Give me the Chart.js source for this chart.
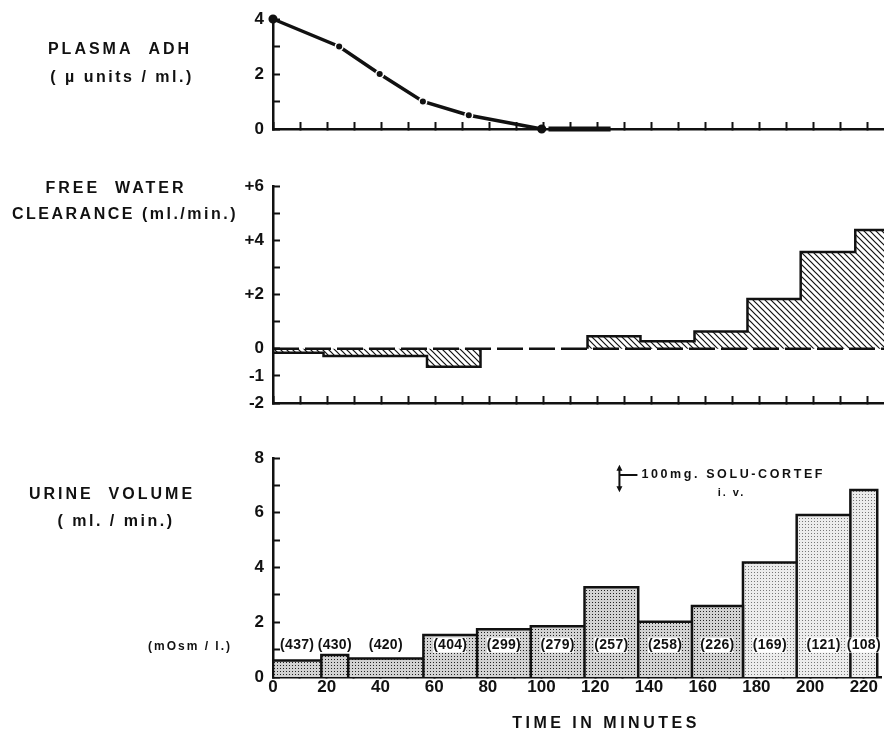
<!DOCTYPE html>
<html>
<head>
<meta charset="utf-8">
<script src="https://cdn.jsdelivr.net/npm/chart.js@4.4.1/dist/chart.umd.min.js"></script>
<style>
  body { margin: 0; background: #fff; }
  #wrap { position: relative; width: 884px; height: 732px; overflow: hidden; }
  canvas { position: absolute; left: 0; }
</style>
</head>
<body>
<div id="wrap">
  <canvas id="adh" width="890" height="164" style="top:-8px;width:890px;height:164px"></canvas>
  <canvas id="cwater" width="885" height="271" style="top:159px;width:885px;height:271px"></canvas>
  <canvas id="urine" width="885" height="302" style="top:430px;width:885px;height:302px"></canvas>
</div>
<script>
// ---- data (time in minutes) ----
const timeMax = 226.5;

// plasma ADH, microunits / ml
const adhTimes = [0, 24.5, 39.5, 55.5, 72.5, 99.5];
const adhValues = [4, 3, 2, 1, 0.5, 0];
// heavy bar on the baseline after ADH disappears
const adhZeroTimes = [102, 125];
const adhZeroValues = [0, 0];

// free water clearance, ml/min, one value per collection period
const cwEdges = [0, 18.7, 57, 76.8, 116.4, 136, 156, 175.6, 195.3, 215.5, 226.5];
const cwValues = [-0.15, -0.27, -0.66, 0, 0.46, 0.28, 0.64, 1.83, 3.57, 4.38];

// urine volume, ml/min, one bar per collection period
const uvEdges = [0, 18, 28, 56, 76, 96, 116, 136, 156, 175, 195, 215, 225];
const uvValues = [0.6, 0.8, 0.68, 1.53, 1.74, 1.85, 3.28, 2.02, 2.59, 4.18, 5.92, 6.83];
const uvOsm = ['(437)', '(430)', '(420)', '(404)', '(299)', '(279)', '(257)', '(258)', '(226)', '(169)', '(121)', '(108)'];

// 100 mg Solu-Cortef i.v.
const cortefTime = 129;

// ---- style ----
const ink = '#111';
const fam = "'Liberation Sans', 'DejaVu Sans', sans-serif";
const tickFont = { family: fam, size: 17, weight: 'bold' };
const lightFrom = 9; // bars from here on have the lighter stipple

function hatch() {
  const c = document.createElement('canvas');
  c.width = 6; c.height = 6;
  const g = c.getContext('2d');
  g.strokeStyle = ink;
  g.lineWidth = 1.2;
  g.beginPath();
  g.moveTo(-1, -1); g.lineTo(7, 7);
  g.moveTo(-1, 5); g.lineTo(1, 7);
  g.moveTo(5, -1); g.lineTo(7, 1);
  g.stroke();
  return g.createPattern(c, 'repeat');
}

function dots(size, bg, dot) {
  const c = document.createElement('canvas');
  c.width = size; c.height = size;
  const g = c.getContext('2d');
  g.fillStyle = bg;
  g.fillRect(0, 0, size, size);
  g.fillStyle = dot;
  g.fillRect(1, 1, 1, 1);
  return g.createPattern(c, 'repeat');
}

function xAxis(height, labels) {
  return {
    type: 'linear', min: 0, max: timeMax,
    ticks: {
      stepSize: 10, includeBounds: false, autoSkip: false, maxRotation: 0,
      display: labels, color: ink, font: tickFont, padding: 7,
      callback: v => v % 20 === 0 ? String(v) : ''
    },
    grid: { drawOnChartArea: false, tickLength: -7, tickWidth: 2, tickColor: ink },
    border: { color: ink, width: 2.5 },
    afterFit: s => { s.height = height; }
  };
}

function yAxis(min, max, fmt) {
  return {
    type: 'linear', min: min, max: max,
    ticks: { stepSize: 1, autoSkip: false, color: ink, font: tickFont, padding: 16, callback: fmt },
    grid: { drawOnChartArea: false, tickLength: -7, tickWidth: 2, tickColor: ink },
    border: { color: ink, width: 2.5 },
    afterFit: s => { s.width = 273; }
  };
}

function drawText(ctx, t) {
  ctx.save();
  ctx.fillStyle = ink;
  ctx.font = 'bold ' + (t.size || 16) + 'px ' + fam;
  ctx.letterSpacing = (t.spacing || 0) + 'px';
  ctx.textAlign = t.align || 'center';
  ctx.textBaseline = 'middle';
  ctx.fillText(t.text, t.x, t.y);
  ctx.restore();
}

const sideText = {
  id: 'sideText',
  afterDraw(chart, args, opts) {
    opts.items.forEach(t => drawText(chart.ctx, t));
  }
};

const common = {
  responsive: false,
  animation: false,
  events: [],
  plugins: { legend: { display: false }, tooltip: { enabled: false } }
};

// ---- plasma ADH ----
new Chart(document.getElementById('adh'), {
  type: 'line',
  data: {
    datasets: [
      {
        data: adhTimes.map((t, i) => ({ x: t, y: adhValues[i] })),
        borderColor: ink, borderWidth: 3.5, tension: 0, clip: false,
        pointRadius: 3.8, pointHoverRadius: 0,
        pointBackgroundColor: ink,
        pointBorderColor: c => (c.dataIndex === 0 || c.dataIndex === adhTimes.length - 1) ? ink : '#fff',
        pointBorderWidth: 1.5
      },
      {
        data: adhZeroTimes.map((t, i) => ({ x: t, y: adhZeroValues[i] })),
        borderColor: ink, borderWidth: 5, pointRadius: 0, clip: false
      }
    ]
  },
  options: {
    ...common,
    layout: { padding: { top: 27, right: 0, left: 0, bottom: 0 } },
    scales: {
      x: xAxis(27, false),
      y: yAxis(0, 4, v => v % 2 === 0 ? String(v) : '')
    },
    plugins: {
      ...common.plugins,
      sideText: { items: [
        { text: 'PLASMA  ADH', x: 120, y: 58, size: 16, spacing: 3 },
        { text: '( \u00b5 units / ml.)', x: 122, y: 86, size: 16, spacing: 2.5 }
      ] }
    }
  },
  plugins: [sideText]
});

// ---- free water clearance ----
const cwPoints = [];
cwValues.forEach((v, i) => {
  cwPoints.push({ x: cwEdges[i], y: v }, { x: cwEdges[i + 1], y: v });
});

new Chart(document.getElementById('cwater'), {
  type: 'line',
  data: {
    datasets: [
      {
        data: [{ x: 0, y: 0 }, { x: timeMax, y: 0 }],
        borderColor: ink, borderWidth: 2.5, borderDash: [26, 6], pointRadius: 0, order: 0
      },
      {
        data: cwPoints,
        borderColor: ink, borderWidth: 2.5, tension: 0, pointRadius: 0,
        borderJoinStyle: 'miter',
        fill: 'origin', backgroundColor: hatch(), order: 1,
        segment: {
          borderColor: c => (c.p0.parsed.y === 0 && c.p1.parsed.y === 0) ? 'rgba(0,0,0,0)' : ink
        }
      }
    ]
  },
  options: {
    ...common,
    layout: { padding: { top: 27, right: 0, left: 0, bottom: 0 } },
    scales: {
      x: xAxis(27, false),
      y: yAxis(-2, 6, v => v < 0 ? String(v) : v === 0 ? '0' : (v % 2 === 0 ? '+' + v : ''))
    },
    plugins: {
      ...common.plugins,
      sideText: { items: [
        { text: 'FREE  WATER', x: 116, y: 30, size: 16, spacing: 3 },
        { text: 'CLEARANCE (ml./min.)', x: 125, y: 56, size: 16, spacing: 2.5 }
      ] }
    }
  },
  plugins: [sideText]
});

// ---- urine volume ----
function barOutline(from, to) {
  const pts = [];
  for (let i = from; i < to; i++) {
    pts.push({ x: uvEdges[i], y: 0 }, { x: uvEdges[i], y: uvValues[i] },
             { x: uvEdges[i + 1], y: uvValues[i] }, { x: uvEdges[i + 1], y: 0 });
  }
  return pts;
}

const urineExtras = {
  id: 'urineExtras',
  afterDatasetsDraw(chart) {
    const ctx = chart.ctx;
    const xs = chart.scales.x, ys = chart.scales.y;
    // osmolality labels
    ctx.save();
    ctx.font = 'bold 14px ' + fam;
    ctx.letterSpacing = '0.3px';
    ctx.textAlign = 'center';
    ctx.textBaseline = 'middle';
    const ly = ys.getPixelForValue(1) - 4;
    uvOsm.forEach((txt, i) => {
      const cx = xs.getPixelForValue((uvEdges[i] + uvEdges[i + 1]) / 2);
      const w = ctx.measureText(txt).width;
      ctx.fillStyle = '#fff';
      ctx.fillRect(cx - w / 2, ly - 8, w - 1, 15);
      ctx.fillStyle = ink;
      ctx.fillText(txt, cx, ly);
    });
    ctx.restore();

    // Solu-Cortef marker
    const ax = xs.getPixelForValue(cortefTime);
    const top = ys.getPixelForValue(7.75), bot = ys.getPixelForValue(6.75);
    const my = ys.getPixelForValue(7.38);
    ctx.save();
    ctx.strokeStyle = ink; ctx.fillStyle = ink; ctx.lineWidth = 2;
    ctx.beginPath();
    ctx.moveTo(ax, top + 4); ctx.lineTo(ax, bot - 4);
    ctx.moveTo(ax, my); ctx.lineTo(ax + 18, my);
    ctx.stroke();
    ctx.beginPath();
    ctx.moveTo(ax, top); ctx.lineTo(ax - 3, top + 6); ctx.lineTo(ax + 3, top + 6); ctx.closePath();
    ctx.moveTo(ax, bot); ctx.lineTo(ax - 3, bot - 6); ctx.lineTo(ax + 3, bot - 6); ctx.closePath();
    ctx.fill();
    ctx.restore();
    drawText(ctx, { text: '100mg. SOLU-CORTEF', x: ax + 22, y: my, size: 12.5, spacing: 2.6, align: 'left' });
    drawText(ctx, { text: 'i. v.', x: ax + 112, y: my + 18, size: 11, spacing: 2 });

    // axis title
    drawText(ctx, { text: 'TIME IN MINUTES', x: xs.getPixelForValue(124), y: chart.height - 8, size: 16, spacing: 3.5 });
  }
};

new Chart(document.getElementById('urine'), {
  type: 'line',
  data: {
    datasets: [
      {
        data: barOutline(0, lightFrom),
        borderColor: ink, borderWidth: 2.5, tension: 0, pointRadius: 0,
        borderJoinStyle: 'miter', fill: 'origin', backgroundColor: dots(3, '#d2d2d2', '#222')
      },
      {
        data: barOutline(lightFrom, uvValues.length),
        borderColor: ink, borderWidth: 2.5, tension: 0, pointRadius: 0,
        borderJoinStyle: 'miter', fill: 'origin', backgroundColor: dots(3, '#ececec', '#777')
      }
    ]
  },
  options: {
    ...common,
    layout: { padding: { top: 28, right: 0, left: 0, bottom: 0 } },
    scales: {
      x: xAxis(55, true),
      y: yAxis(0, 8, v => v % 2 === 0 ? String(v) : '')
    },
    plugins: {
      ...common.plugins,
      sideText: { items: [
        { text: 'URINE  VOLUME', x: 112, y: 65, size: 16, spacing: 3 },
        { text: '( ml. / min.)', x: 116, y: 92, size: 16, spacing: 2.5 },
        { text: '(mOsm / l.)', x: 190, y: 217, size: 12, spacing: 2 }
      ] }
    }
  },
  plugins: [sideText, urineExtras]
});
</script>
</body>
</html>
